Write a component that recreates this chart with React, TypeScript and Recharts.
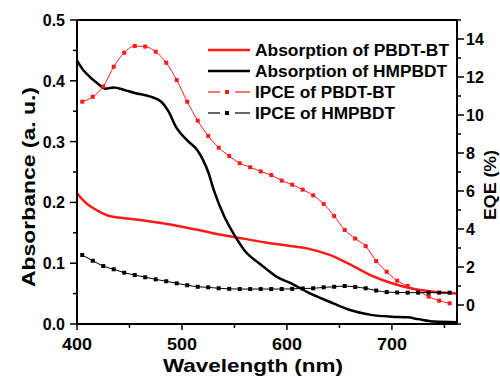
import React from "react";
import { ComposedChart, Line, XAxis, YAxis, Legend } from "recharts";

// absorption spectra (left axis) and IPCE (right axis)

const absPbdtWl = [400, 405, 410, 420, 430, 440, 460, 480, 500, 520, 540, 560, 580, 600, 620, 640, 660, 680, 700, 720, 740, 762];
const absPbdt = [0.215, 0.205, 0.197, 0.186, 0.178, 0.175, 0.171, 0.166, 0.16, 0.153, 0.146, 0.14, 0.134, 0.129, 0.124, 0.114, 0.098, 0.08, 0.067, 0.058, 0.053, 0.05];

const absHmpWl = [400, 405, 410, 420, 427, 435, 445, 455, 470, 480, 487, 495, 505, 515, 520, 525, 530, 540, 550, 560, 575, 590, 605, 620, 640, 660, 680, 700, 715, 725, 740, 762];
const absHmp = [0.433, 0.42, 0.41, 0.395, 0.387, 0.389, 0.385, 0.38, 0.374, 0.366, 0.35, 0.322, 0.302, 0.285, 0.27, 0.25, 0.222, 0.178, 0.146, 0.12, 0.098, 0.078, 0.066, 0.052, 0.037, 0.023, 0.015, 0.012, 0.011, 0.008, 0.004, 0.003];

const ipceWl = [405, 415, 425, 435, 445, 455, 465, 475, 485, 495, 505, 515, 525, 535, 545, 555, 565, 575, 585, 595, 605, 615, 625, 635, 645, 655, 665, 675, 685, 695, 705, 715, 725, 735, 745, 755];
const ipcePbdt = [10.7, 10.96, 11.5, 12.54, 13.28, 13.63, 13.6, 13.33, 12.75, 11.84, 10.7, 9.7, 8.9, 8.28, 7.84, 7.46, 7.25, 7.03, 6.84, 6.55, 6.33, 6.07, 5.77, 5.32, 4.68, 3.95, 3.5, 3.1, 2.31, 1.75, 1.28, 1.0, 0.74, 0.44, 0.23, 0.09];
const ipceHmp = [2.63, 2.33, 2.05, 1.88, 1.7, 1.58, 1.46, 1.35, 1.25, 1.14, 1.04, 0.96, 0.93, 0.88, 0.85, 0.84, 0.84, 0.84, 0.84, 0.84, 0.85, 0.87, 0.88, 0.93, 0.96, 1.0, 0.95, 0.88, 0.76, 0.68, 0.66, 0.65, 0.65, 0.65, 0.65, 0.65];

const xTicks = [400, 450, 500, 550, 600, 650, 700, 750];
const leftTicks = [0, 0.05, 0.1, 0.15, 0.2, 0.25, 0.3, 0.35, 0.4, 0.45, 0.5];
const rightTicks = [-1, 0, 1, 2, 3, 4, 5, 6, 7, 8, 9, 10, 11, 12, 13, 14, 15];

const legendItems = [
  { name: "Absorption of PBDT-BT", color: "#ff1a1a", marker: false, len: 194 },
  { name: "Absorption of HMPBDT", color: "#000000", marker: false, len: 192 },
  { name: "IPCE of PBDT-BT", color: "#ff1a1a", marker: true, len: 140 },
  { name: "IPCE of HMPBDT", color: "#000000", marker: true, len: 140 },
];

const RED = "#ff1a1a";
const FONT = "'Liberation Sans', Arial, sans-serif";

const absPbdtData = absPbdtWl.map((wl, i) => ({ wl, v: absPbdt[i] }));
const absHmpData = absHmpWl.map((wl, i) => ({ wl, v: absHmp[i] }));
const ipcePbdtData = ipceWl.map((wl, i) => ({ wl, v: ipcePbdt[i] }));
const ipceHmpData = ipceWl.map((wl, i) => ({ wl, v: ipceHmp[i] }));

const square = (color: string) => (p: any) => (
  <rect key={p.index} x={p.cx - 2} y={p.cy - 2} width={4} height={4} fill={color} />
);

function BottomTick({ x, y, payload }: any) {
  const major = payload.value % 100 === 0;
  return (
    <g>
      <line x1={x} x2={x} y1={y} y2={y + (major ? 6 : 4)} stroke="#000" strokeWidth={1.5} />
      {major && (
        <text x={x} y={y + 26} textAnchor="middle" fontSize={16} fontWeight="bold" fontFamily={FONT} fill="#000" textLength={30} lengthAdjust="spacingAndGlyphs">
          {payload.value}
        </text>
      )}
    </g>
  );
}

function TopTick({ x, y }: any) {
  return <line x1={x} x2={x} y1={y} y2={y + 5} stroke="#000" strokeWidth={1.5} />;
}

function LeftTick({ x, y, payload }: any) {
  const major = Math.round(payload.value * 100) % 10 === 0;
  return (
    <g>
      <line x1={x} x2={x - (major ? 7 : 4)} y1={y} y2={y} stroke="#000" strokeWidth={1.5} />
      {major && (
        <text x={x - 12} y={y + 6} textAnchor="end" fontSize={16} fontWeight="bold" fontFamily={FONT} fill="#000">
          {payload.value.toFixed(1)}
        </text>
      )}
    </g>
  );
}

function RightTick({ x, y, payload }: any) {
  const major = payload.value >= 0 && payload.value % 2 === 0;
  return (
    <g>
      <line x1={x} x2={x + (major ? 7 : 4)} y1={y} y2={y} stroke="#000" strokeWidth={1.5} />
      {major && (
        <text x={x + 9} y={y + 6} textAnchor="start" fontSize={16} fontWeight="bold" fontFamily={FONT} fill="#000">
          {payload.value}
        </text>
      )}
    </g>
  );
}

function LegendBox() {
  return (
    <svg width={260} height={90} style={{ display: "block" }}>
      {legendItems.map((it, i) => {
        const cy = 10 + i * 21;
        return (
          <g key={it.name}>
            {it.marker ? (
              <g>
                <line x1={3} x2={15} y1={cy} y2={cy} stroke={it.color} strokeWidth={1.2} />
                <rect x={20} y={cy - 2} width={4} height={4} fill={it.color} />
                <line x1={30} x2={45} y1={cy} y2={cy} stroke={it.color} strokeWidth={1.2} />
              </g>
            ) : (
              <line x1={3} x2={45} y1={cy} y2={cy} stroke={it.color} strokeWidth={2.5} />
            )}
            <text x={50} y={cy + 6} fontSize={16} fontWeight="bold" fontFamily={FONT} fill="#000" textLength={it.len} lengthAdjust="spacingAndGlyphs">
              {it.name}
            </text>
          </g>
        );
      })}
    </svg>
  );
}

export default function App() {
  return (
    <div style={{ position: "absolute", left: 0, top: 0, background: "#fff" }}>
      <ComposedChart width={500} height={377} margin={{ top: 19, right: 0, bottom: 0, left: 0 }}>
        <XAxis
          dataKey="wl"
          type="number"
          domain={[400, 762]}
          allowDataOverflow
          ticks={xTicks}
          interval={0}
          tickSize={0}
          tickMargin={0}
          tickLine={false}
          tick={<BottomTick />}
          axisLine={{ stroke: "#000", strokeWidth: 2 }}
          height={53}
          label={{
            content: () => (
              <text x={253} y={372} textAnchor="middle" fontSize={19} fontWeight="bold" fontFamily={FONT} fill="#000" textLength={180} lengthAdjust="spacingAndGlyphs">
                Wavelength (nm)
              </text>
            ),
          }}
        />
        <XAxis
          xAxisId="top"
          orientation="top"
          type="number"
          domain={[400, 762]}
          allowDataOverflow
          ticks={xTicks}
          interval={0}
          tickSize={0}
          tickMargin={0}
          tickLine={false}
          tick={<TopTick />}
          axisLine={{ stroke: "#000", strokeWidth: 2 }}
          height={1}
        />
        <YAxis
          yAxisId="left"
          type="number"
          domain={[0, 0.5]}
          allowDataOverflow
          ticks={leftTicks}
          interval={0}
          tickSize={0}
          tickMargin={0}
          tickLine={false}
          tick={<LeftTick />}
          axisLine={{ stroke: "#000", strokeWidth: 2 }}
          width={77}
          label={{
            content: () => (
              <text x={35} y={187} transform="rotate(-90 35 187)" textAnchor="middle" fontSize={19} fontWeight="bold" fontFamily={FONT} fill="#000" textLength={200} lengthAdjust="spacingAndGlyphs">
                Absorbance (a. u.)
              </text>
            ),
          }}
        />
        <YAxis
          yAxisId="right"
          orientation="right"
          type="number"
          domain={[-1, 15]}
          allowDataOverflow
          ticks={rightTicks}
          interval={0}
          tickSize={0}
          tickMargin={0}
          tickLine={false}
          tick={<RightTick />}
          axisLine={{ stroke: "#000", strokeWidth: 2 }}
          width={43}
          label={{
            content: () => (
              <text x={496} y={185} transform="rotate(-90 496 185)" textAnchor="middle" fontSize={16} fontWeight="bold" fontFamily={FONT} fill="#000" textLength={70} lengthAdjust="spacingAndGlyphs">
                EQE (%)
              </text>
            ),
          }}
        />
        <Legend
          layout="vertical"
          verticalAlign="middle"
          align="center"
          wrapperStyle={{ left: 205, top: 40, width: 260 }}
          content={() => <LegendBox />}
        />
        <Line yAxisId="left" data={absPbdtData} dataKey="v" type="monotone" stroke={RED} strokeWidth={2.5} dot={false} isAnimationActive={false} />
        <Line yAxisId="left" data={absHmpData} dataKey="v" type="monotone" stroke="#000" strokeWidth={2.5} dot={false} isAnimationActive={false} />
        <Line yAxisId="right" data={ipcePbdtData} dataKey="v" type="monotone" stroke={RED} strokeWidth={1} dot={square(RED)} isAnimationActive={false} />
        <Line yAxisId="right" data={ipceHmpData} dataKey="v" type="monotone" stroke="#000" strokeWidth={1} dot={square("#000")} isAnimationActive={false} />
      </ComposedChart>
    </div>
  );
}
